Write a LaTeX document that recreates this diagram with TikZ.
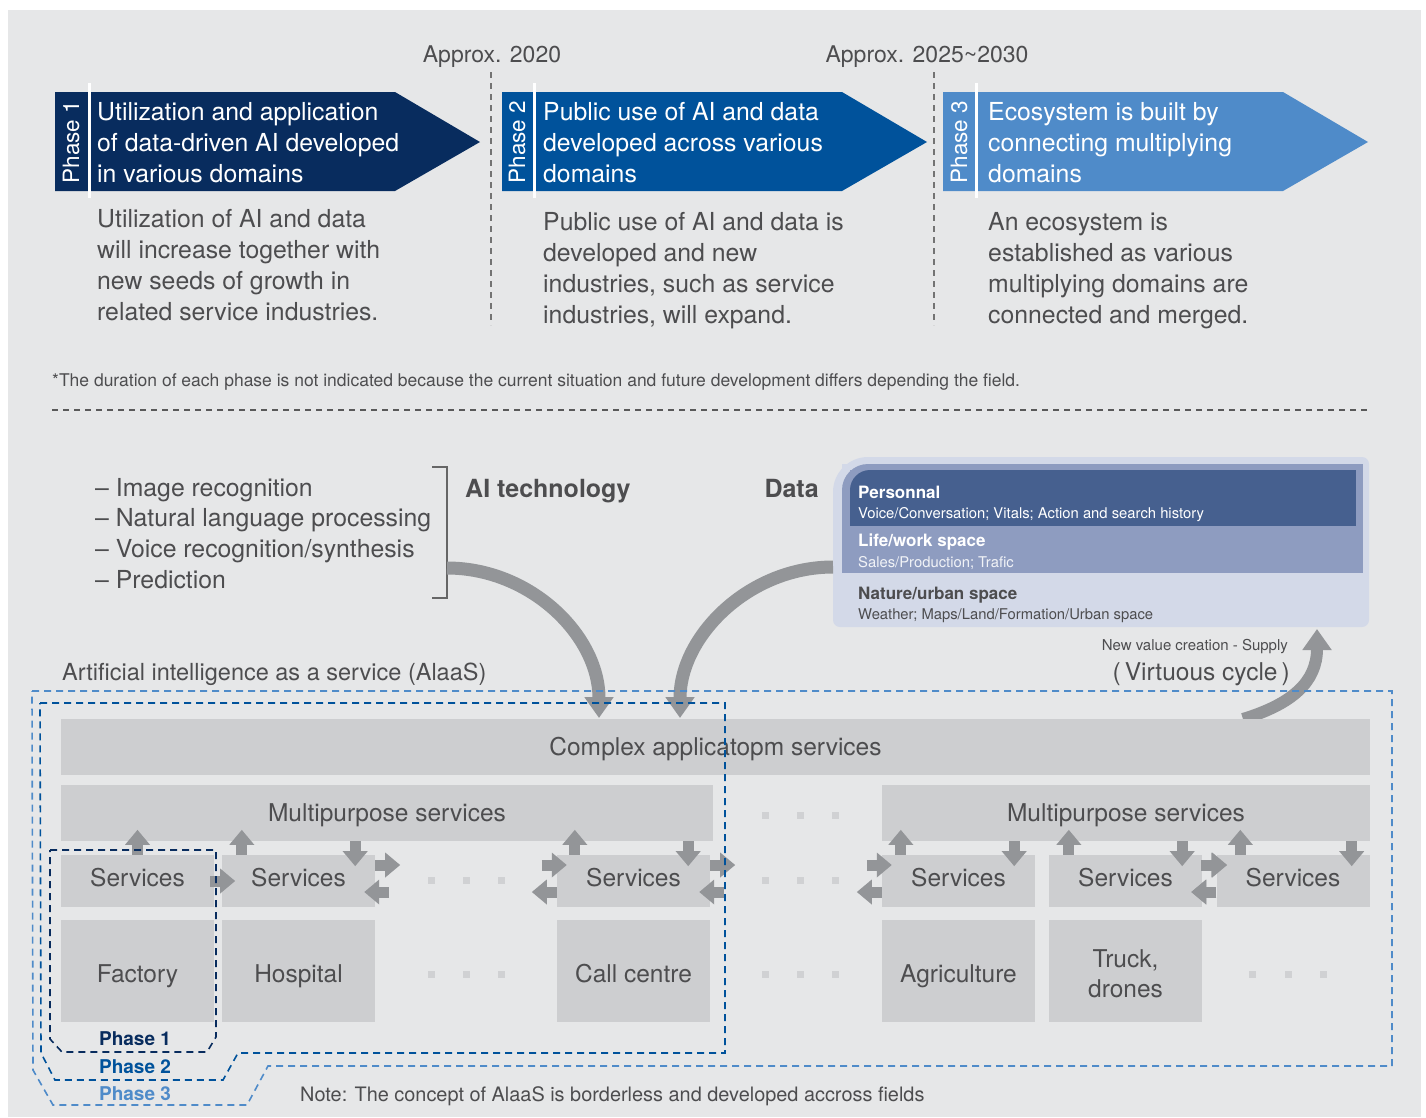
\documentclass[tikz,border=0pt]{standalone}
\usepackage{fontspec}
\setmainfont{TeX Gyre Heros}
\usetikzlibrary{arrows.meta}
\definecolor{bg}{HTML}{E6E7E8}
\definecolor{pone}{HTML}{082C5E}
\definecolor{ptwo}{HTML}{00529B}
\definecolor{pthree}{HTML}{4F8BC9}
\definecolor{txt}{HTML}{4D4D4F}
\definecolor{boxc}{HTML}{CDCED0}
\definecolor{arrc}{HTML}{939598}
\definecolor{dotc}{HTML}{D0D1D3}
\definecolor{dA}{HTML}{D3D9E8}
\definecolor{dB}{HTML}{8E9CC0}
\definecolor{dC}{HTML}{46608F}
\tikzset{
  fs/.style={font=\fontsize{#1}{#1}\selectfont},
  ttl/.style={anchor=base west, inner sep=0, text=white, fs=24.8},
  desc/.style={anchor=base west, inner sep=0, text=txt, fs=24.8},
  phrot/.style={rotate=90, inner sep=0, text=white, fs=22.5},
  sep/.style={draw=black!55, line width=1.4, dash pattern=on 6pt off 5pt},
  svcbox/.style={fill=boxc, inner sep=0, text=txt, fs=24.5, minimum height=52, minimum width=153, text height=17.6, text depth=6},
  dombox/.style={fill=boxc, inner sep=0, text=txt, fs=24.5, minimum height=102, minimum width=153, text height=23.6, text depth=0},
  widebox/.style={fill=boxc, inner sep=0, text=txt, fs=24.5, minimum height=56, text height=17.6, text depth=0},
  smallarr/.style={draw=arrc, line width=11, -{Triangle[width=24,length=15]}},
  bigarr/.style={draw=arrc, line width=13, -{Triangle[width=28,length=21]}},
  dotsq/.style={fill=dotc, inner sep=0, minimum size=7},
  phline/.style={line width=1.6, dash pattern=on 7pt off 5pt},
}
\begin{document}
\begin{tikzpicture}[x=1pt,y=-1pt]
\useasboundingbox (0,0) rectangle (1426,1117);
\fill[bg] (8,10) rectangle (1421,1117);

% ---------- timeline ----------
\node[anchor=base, inner sep=0, text=txt, fs=23] (y2020) at (492,62) {Approx. 2020};
\node[anchor=base, inner sep=0, text=txt, fs=23] (y2025) at (927,62) {Approx. 2025\textasciitilde 2030};
\draw[sep] (491,72) -- (491,325);
\draw[sep] (934,72) -- (934,325);

% Phase 1 banner
\fill[pone] (55,92) -- (395,92) -- (480,142) -- (395,191) -- (55,191) -- cycle;
\draw[white, line width=3] (89,83) -- (89,198);
\node[phrot] (ph1) at (71,142) {Phase 1};
\node[ttl] (t11) at (97,120) {Utilization and application};
\node[ttl] (t12) at (97,151) {of data-driven AI developed};
\node[ttl] (t13) at (97,182) {in various domains};
\foreach \t [count=\i] in {Utilization of AI and data, will increase together with, new seeds of growth in, related service industries.}
  \node[desc] (da\i) at (97,{227+31*(\i-1)}) {\t};

% Phase 2 banner
\fill[ptwo] (502,92) -- (842,92) -- (927,142) -- (842,191) -- (502,191) -- cycle;
\draw[white, line width=3] (534,83) -- (534,198);
\node[phrot] (ph2) at (517,142) {Phase 2};
\node[ttl] (t21) at (543,120) {Public use of AI and data};
\node[ttl] (t22) at (543,151) {developed across various};
\node[ttl] (t23) at (543,182) {domains};
\foreach \t [count=\i] in {Public use of AI and data is, developed and new, {industries, such as service}, {industries, will expand.}}
  \node[desc] (db\i) at (543,{230+31*(\i-1)}) {\t};

% Phase 3 banner
\fill[pthree] (943,92) -- (1283,92) -- (1368,142) -- (1283,191) -- (943,191) -- cycle;
\draw[white, line width=3] (976,83) -- (976,198);
\node[phrot] (ph3) at (959,142) {Phase 3};
\node[ttl] (t31) at (988,120) {Ecosystem is built by};
\node[ttl] (t32) at (988,151) {connecting multiplying};
\node[ttl] (t33) at (988,182) {domains};
\foreach \t [count=\i] in {An ecosystem is, established as various, multiplying domains are, connected and merged.}
  \node[desc] (dc\i) at (988,{230+31*(\i-1)}) {\t};

\node[anchor=base west, inner sep=0, text=txt, fs=17.5] (foot) at (52,386)
  {*The duration of each phase is not indicated because the current situation and future development differs depending the field.};
\draw[line width=1.4, draw=black!65, dash pattern=on 6pt off 5pt] (52,410) -- (1370,410);

% ---------- AI technology ----------
\foreach \t [count=\i] in {Image recognition, Natural language processing, Voice recognition/synthesis, Prediction}
  \node[desc] (li\i) at (95,{496+30.7*(\i-1)}) {-- \t};
\draw[draw=black!60, line width=1.3] (432,467) -- (447,467) -- (447,598) -- (432,598);
\coordinate (aistart) at (447,568);
\node[anchor=base west, inner sep=0, text=txt, font=\bfseries\fontsize{25}{25}\selectfont] (aitech) at (465,497) {AI technology};
\node[anchor=base east, inner sep=0, text=txt, font=\bfseries\fontsize{25}{25}\selectfont] (datalbl) at (819,497) {Data};

% ---------- Data box ----------
\fill[dA, rounded corners=7] (833,457) rectangle (1369,627);
\fill[bg] (833,457) rectangle (868,492);
\fill[dA] (868,492) circle (35);
\fill[dB] (842,464) rectangle (1363,573);
\fill[dA] (842,464) rectangle (868,490);
\fill[dB] (868,490) circle (26);
\fill[dC] (850,470) rectangle (1356,526);
\fill[dB] (850,470) rectangle (870,490);
\fill[dC] (870,490) circle (20);
\node[anchor=base west, inner sep=0, text=white, font=\bfseries\fontsize{17}{17}\selectfont] (pers) at (858,498) {Personnal};
\node[anchor=base west, inner sep=0, text=white, fs=14.8] (perst) at (858,518) {Voice/Conversation; Vitals; Action and search history};
\node[anchor=base west, inner sep=0, text=white, font=\bfseries\fontsize{17}{17}\selectfont] (life) at (858,546) {Life/work space};
\node[anchor=base west, inner sep=0, text=white!88!dB, fs=14.8] (lifet) at (858,567) {Sales/Production; Trafic};
\node[anchor=base west, inner sep=0, text=txt, font=\bfseries\fontsize{17}{17}\selectfont] (nat) at (858,599) {Nature/urban space};
\node[anchor=base west, inner sep=0, text=txt, fs=14.8] (natt) at (858,619) {Weather; Maps/Land/Formation/Urban space};
\coordinate (datastart) at (833,567);

\node[anchor=base east, inner sep=0, text=txt, fs=15] (nvc) at (1288,650) {New value creation - Supply};
\node[anchor=base east, inner sep=0, text=txt, fs=24.5] (vc) at (1290,680) {(\,Virtuous cycle\,)};
\node[anchor=base west, inner sep=0, text=txt, fs=23.5] (aiaas) at (62,680) {Artificial intelligence as a service (AlaaS)};

% ---------- big arrows ----------
\coordinate (aiend) at (599,718);
\coordinate (dataend) at (680,718);
\coordinate (vcstart) at (1243,719);
\coordinate (vcend) at (1317,629);
\draw[bigarr] (aistart) .. controls (531,568) and (599,636) .. (aiend);
\draw[bigarr] (datastart) .. controls (749,567) and (680,636) .. (dataend);
\draw[bigarr, line width=12] (vcstart) .. controls (1292,704) and (1317,682) .. (vcend);

% ---------- boxes ----------
\node[widebox, minimum width=1309] (complex) at (715.5,747) {Complex applicatopm services};
\node[widebox, minimum width=652] (multiL) at (387,813) {Multipurpose services};
\node[widebox, minimum width=488] (multiR) at (1126,813) {Multipurpose services};

\node[svcbox] (s1) at (137.5,881) {Services};
\node[svcbox] (s2) at (298.5,881) {Services};
\node[svcbox] (s3) at (633.5,881) {Services};
\node[svcbox] (s4) at (958.5,881) {Services};
\node[svcbox] (s5) at (1125.5,881) {Services};
\node[svcbox] (s6) at (1293,881) {Services};

\node[dombox] (fac) at (137.5,971) {Factory};
\node[dombox] (hos) at (298.5,971) {Hospital};
\node[dombox] (cal) at (633.5,971) {Call centre};
\node[dombox] (agr) at (958.5,971) {Agriculture};
\node[fill=boxc, inner sep=0, text=txt, minimum height=102, minimum width=153, align=center,
      font=\fontsize{24.5}{30}\selectfont] (tru) at (1125.5,971) {\rule{0pt}{23.6pt}Truck,\\drones};

% dots
\foreach \x in {765,800,835} \node[dotsq] (dm\x) at (\x,815) {};
\foreach \x in {431,466,501,765,800,835} \node[dotsq] (ds\x) at (\x,880) {};
\foreach \x in {431,466,501,765,800,835,1252,1288,1323} \node[dotsq] (dd\x) at (\x,974) {};

% small up / down arrows
\draw[smallarr] (s1.north) -- ++(0,-25);
\draw[smallarr] ([xshift=20]s2.north west) -- ++(0,-25);
\draw[smallarr] ([xshift=-20]s2.north east |- multiL.south) -- ++(0,25);
\draw[smallarr] ([xshift=18]s3.north west) -- ++(0,-25);
\draw[smallarr] ([xshift=-22]s3.north east |- multiL.south) -- ++(0,25);
\draw[smallarr] ([xshift=19]s4.north west) -- ++(0,-25);
\draw[smallarr] ([xshift=-21]s4.north east |- multiR.south) -- ++(0,25);
\draw[smallarr] ([xshift=20]s5.north west) -- ++(0,-25);
\draw[smallarr] ([xshift=-20]s5.north east |- multiR.south) -- ++(0,25);
\draw[smallarr] ([xshift=24]s6.north west) -- ++(0,-25);
\draw[smallarr] ([xshift=-18]s6.north east |- multiR.south) -- ++(0,25);

% small horizontal arrows
\draw[smallarr] ([xshift=-4]s1.east) -- ++(25,0);
\foreach \b in {s2,s3,s5}{
  \draw[smallarr] ([yshift=16]\b.east) -- ++(25,0);
  \draw[smallarr] ([xshift=14,yshift=-11]\b.east) -- ++(-25,0);
}
\foreach \b in {s3,s4}{
  \draw[smallarr] ([xshift=-15,yshift=16]\b.west) -- ++(25,0);
  \draw[smallarr] ([yshift=-11]\b.west) -- ++(-25,0);
}
\draw[smallarr] ([xshift=-15,yshift=16]s6.west) -- ++(25,0);
\draw[smallarr] ([yshift=-11]s6.west) -- ++(-25,0);

% ---------- phase outlines ----------
\draw[pthree, phline] (32,691) -- (1392,691) -- (1392,1066) -- (268,1066) -- (247,1105) -- (53,1105) -- (33,1070) -- cycle;
\draw[ptwo, phline] (40,703) -- (725,703) -- (725,1053) -- (238,1053) -- (223,1080) -- (55,1080) -- (41,1053) -- cycle;
\draw[pone, phline] (50,850) -- (216,850) -- (216,1037) -- (207,1052) -- (62,1052) -- (50,1039) -- cycle;
\node[anchor=base, inner sep=0, text=pone, font=\bfseries\fontsize{19}{19}\selectfont] (lp1) at (135,1045) {Phase 1};
\node[anchor=base, inner sep=0, text=ptwo, font=\bfseries\fontsize{19}{19}\selectfont] (lp2) at (135,1073) {Phase 2};
\node[anchor=base, inner sep=0, text=pthree, font=\bfseries\fontsize{19}{19}\selectfont] (lp3) at (135,1100) {Phase 3};
\node[anchor=base west, inner sep=0, text=txt, fs=19.9] (note) at (300,1101) {Note: The concept of AlaaS is borderless and developed accross fields};
\end{tikzpicture}
\end{document}
